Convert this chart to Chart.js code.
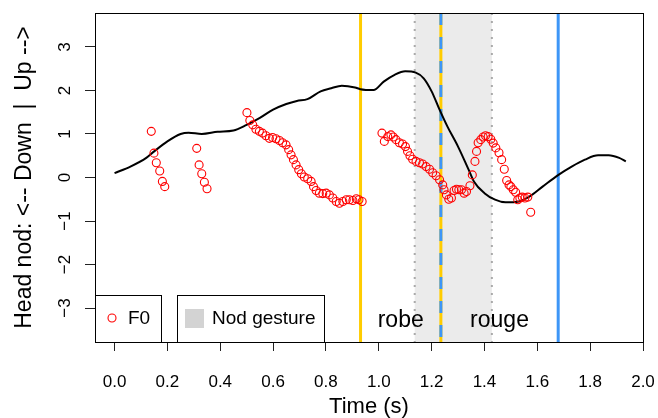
<!DOCTYPE html>
<html>
<head>
<meta charset="utf-8">
<script src="https://cdn.jsdelivr.net/npm/chart.js@4"></script>
<style>
  html, body { margin: 0; padding: 0; background: #fff; }
  #chart { display: block; }
</style>
</head>
<body>
<canvas id="chart" width="658" height="418"></canvas>
<script>
// Axis ticks
const xTicks = [0, 0.2, 0.4, 0.6, 0.8, 1.0, 1.2, 1.4, 1.6, 1.8, 2.0];
const yTicks = [-3, -2, -1, 0, 1, 2, 3];
const yTickLabels = ['\u22123', '\u22122', '\u22121', '0', '1', '2', '3'];

// Head nod trajectory (black line)
const nodTime  = [0.00, 0.06, 0.12, 0.15, 0.20, 0.25, 0.28, 0.33, 0.39, 0.45, 0.50, 0.55, 0.60, 0.65, 0.69, 0.73,
                  0.78, 0.82, 0.86, 0.91, 0.93, 0.98, 1.02, 1.06, 1.10, 1.14, 1.17, 1.20, 1.23, 1.26, 1.30, 1.34,
                  1.36, 1.40, 1.44, 1.48, 1.53, 1.57, 1.62, 1.68, 1.73, 1.78, 1.83, 1.87, 1.91, 1.935];
const nodValue = [0.10, 0.25, 0.45, 0.60, 0.83, 1.00, 1.03, 1.00, 1.05, 1.08, 1.21, 1.37, 1.56, 1.69, 1.76, 1.80,
                  1.98, 2.05, 2.11, 2.07, 2.03, 2.01, 2.21, 2.36, 2.44, 2.41, 2.28, 1.98, 1.56, 1.17, 0.71, 0.18,
                  -0.09, -0.36, -0.51, -0.57, -0.55, -0.44, -0.21, 0.06, 0.25, 0.41, 0.51, 0.51, 0.45, 0.37];

// F0 (red circles)
const f0Time = [
  0.139, 0.149, 0.158, 0.171, 0.181, 0.190,
  0.311, 0.320, 0.330, 0.340, 0.350,
  0.501, 0.512, 0.523, 0.535, 0.548, 0.560, 0.573, 0.586, 0.598, 0.611, 0.624, 0.636, 0.649, 0.659,
  0.668, 0.677, 0.687, 0.697, 0.707, 0.718, 0.731, 0.744, 0.753, 0.763, 0.775, 0.788, 0.801, 0.813,
  0.826, 0.839, 0.851, 0.864, 0.877, 0.889, 0.902, 0.915, 0.925, 0.937,
  1.012, 1.021, 1.034, 1.046, 1.055, 1.065, 1.078, 1.090, 1.101, 1.109, 1.118, 1.128, 1.141, 1.154,
  1.166, 1.179, 1.192, 1.204, 1.217, 1.230, 1.242, 1.247, 1.256, 1.265, 1.275, 1.285, 1.294, 1.303,
  1.313, 1.323, 1.332, 1.345, 1.354, 1.364, 1.370, 1.376, 1.386, 1.395, 1.404, 1.414, 1.424, 1.433,
  1.443, 1.455, 1.465, 1.475, 1.484, 1.493, 1.500, 1.509, 1.518, 1.526, 1.534, 1.543, 1.553, 1.564, 1.575
];
const f0Value = [
  1.06, 0.56, 0.34, 0.15, -0.09, -0.21,
  0.67, 0.29, 0.085, -0.11, -0.26,
  1.49, 1.31, 1.21, 1.11, 1.06, 1.02, 0.96, 0.90, 0.92, 0.89, 0.85, 0.80, 0.75, 0.64,
  0.52, 0.41, 0.29, 0.18, 0.085, 0.01, -0.03, -0.09, -0.21, -0.30, -0.36, -0.37, -0.36, -0.40,
  -0.47, -0.55, -0.59, -0.55, -0.51, -0.51, -0.53, -0.49, -0.51, -0.55,
  1.02, 0.83, 0.94, 0.98, 0.93, 0.87, 0.80, 0.77, 0.71, 0.60, 0.50, 0.42, 0.37, 0.34,
  0.31, 0.25, 0.19, 0.11, 0.04, -0.05, -0.17, -0.28, -0.40, -0.50, -0.47, -0.30, -0.27, -0.28,
  -0.28, -0.36, -0.32, -0.19, 0.06, 0.37, 0.60, 0.80, 0.87, 0.93, 0.96, 0.94, 0.88, 0.79,
  0.68, 0.57, 0.41, 0.19, -0.07, -0.17, -0.21, -0.28, -0.34, -0.51, -0.47, -0.45, -0.47, -0.45, -0.80
];

// Words and nod gesture interval
const words = ['robe', 'rouge'];
const wordStart = [0.931, 1.235];
const wordEnd = [1.235, 1.679];
const nodGesture = [1.136, 1.428];
const wordLabelY = -3.3;

const YELLOW = '#ffcc00';
const BLUE = '#3d96f7';
const FONT = "'Liberation Sans', Arial, sans-serif";

// Background marks: nod gesture band and word boundaries
const annotations = {
  id: 'annotations',
  beforeDatasetsDraw(chart) {
    const { ctx, chartArea: a, scales: { x } } = chart;
    const vline = function(px) {
      ctx.beginPath();
      ctx.moveTo(px, a.top);
      ctx.lineTo(px, a.bottom);
      ctx.stroke();
    };
    ctx.save();

    const g0 = x.getPixelForValue(nodGesture[0]);
    const g1 = x.getPixelForValue(nodGesture[1]);
    ctx.fillStyle = '#ebebeb';
    ctx.fillRect(g0, a.top, g1 - g0, a.bottom - a.top);
    ctx.strokeStyle = '#aaaaaa';
    ctx.lineWidth = 2;
    ctx.setLineDash([2, 6]);
    vline(g0);
    vline(g1);

    ctx.lineWidth = 3;
    ctx.setLineDash([]);
    ctx.strokeStyle = YELLOW;
    wordStart.forEach(function(t) { vline(x.getPixelForValue(t)); });

    ctx.strokeStyle = BLUE;
    wordEnd.forEach(function(t) {
      // where a word ends exactly where the next one starts, dash it over the yellow
      ctx.setLineDash(wordStart.indexOf(t) >= 0 ? [12, 12] : []);
      vline(x.getPixelForValue(t));
    });
    ctx.restore();
  },
  afterDraw(chart) {
    const { ctx, chartArea: a, scales: { x, y } } = chart;
    ctx.save();

    // word labels
    ctx.fillStyle = '#000';
    ctx.font = '23px ' + FONT;
    ctx.textAlign = 'center';
    ctx.textBaseline = 'middle';
    words.forEach(function(w, i) {
      const mid = (wordStart[i] + wordEnd[i]) / 2;
      ctx.fillText(w, x.getPixelForValue(mid), y.getPixelForValue(wordLabelY));
    });

    // rotated y tick labels
    ctx.font = '17px ' + FONT;
    yTicks.forEach(function(v, i) {
      ctx.save();
      ctx.translate(65, y.getPixelForValue(v));
      ctx.rotate(-Math.PI / 2);
      ctx.fillText(yTickLabels[i], 0, 0);
      ctx.restore();
    });

    // legends
    ctx.strokeStyle = '#000';
    ctx.lineWidth = 1;
    ctx.fillStyle = '#fff';
    ctx.fillRect(a.left, 295, 66, a.bottom - 295);
    ctx.strokeRect(a.left + 0.5, 295.5, 66, a.bottom - 295);
    ctx.fillRect(177, 295, 147, a.bottom - 295);
    ctx.strokeRect(177.5, 295.5, 147, a.bottom - 295);

    ctx.beginPath();
    ctx.arc(112, 318, 4, 0, Math.PI * 2);
    ctx.strokeStyle = '#ff0000';
    ctx.lineWidth = 1.1;
    ctx.stroke();
    ctx.fillStyle = '#d3d3d3';
    ctx.fillRect(185, 309, 19, 19);

    ctx.fillStyle = '#000';
    ctx.font = '19px ' + FONT;
    ctx.textAlign = 'left';
    ctx.fillText('F0', 128, 319);
    ctx.fillText('Nod gesture', 212, 319);

    // plot box
    ctx.strokeStyle = '#000';
    ctx.lineWidth = 1;
    ctx.strokeRect(Math.round(a.left) + 0.5, Math.round(a.top) + 0.5,
      Math.round(a.right - a.left), Math.round(a.bottom - a.top));
    ctx.restore();
  }
};

new Chart(document.getElementById('chart'), {
  type: 'scatter',
  data: {
    datasets: [
      {
        label: 'F0',
        data: f0Time.map(function(t, i) { return { x: t, y: f0Value[i] }; }),
        pointStyle: 'circle',
        pointRadius: 4,
        pointBorderWidth: 1.1,
        pointBorderColor: '#ff0000',
        pointBackgroundColor: 'rgba(0,0,0,0)',
        showLine: false
      },
      {
        type: 'line',
        label: 'Head nod',
        data: nodTime.map(function(t, i) { return { x: t, y: nodValue[i] }; }),
        borderColor: '#000',
        borderWidth: 2,
        pointRadius: 0,
        tension: 0.4,
        cubicInterpolationMode: 'monotone',
        fill: false
      }
    ]
  },
  options: {
    responsive: false,
    devicePixelRatio: 1,
    animation: false,
    layout: { padding: { top: 13, right: 15, left: 0, bottom: 0 } },
    plugins: {
      legend: { display: false },
      tooltip: { enabled: false }
    },
    scales: {
      x: {
        type: 'linear',
        min: -0.074,
        max: 2.0,
        afterBuildTicks: function(scale) {
          scale.ticks = xTicks.map(function(v) { return { value: v }; });
        },
        afterFit: function(scale) {
          scale.height = 76;
          // keep the plot box edge fixed, label overhang fits in the right margin
          scale.paddingLeft = 0;
          scale.paddingRight = 0;
        },
        border: { display: false },
        grid: { drawOnChartArea: false, drawTicks: true, tickLength: 9, color: '#222', lineWidth: 1 },
        ticks: {
          padding: 21,
          color: '#000',
          font: { family: FONT, size: 17 },
          maxRotation: 0,
          callback: function(v) { return Number(v).toFixed(1); }
        },
        title: {
          display: true,
          text: 'Time (s)',
          color: '#000',
          font: { family: FONT, size: 22, lineHeight: 1 },
          padding: { top: 0, bottom: 0 }
        }
      },
      y: {
        type: 'linear',
        min: -3.78,
        max: 3.78,
        afterBuildTicks: function(scale) {
          scale.ticks = yTicks.map(function(v) { return { value: v }; });
        },
        afterFit: function(scale) { scale.width = 95; },
        border: { display: false },
        grid: { drawOnChartArea: false, drawTicks: true, tickLength: 10, color: '#222', lineWidth: 1 },
        ticks: { display: false },
        title: {
          display: true,
          text: 'Head nod: <-- Down  |  Up -->',
          color: '#000',
          font: { family: FONT, size: 23, lineHeight: 1 },
          padding: { top: 13, bottom: 0 }
        }
      }
    }
  },
  plugins: [annotations]
});
</script>
</body>
</html>
